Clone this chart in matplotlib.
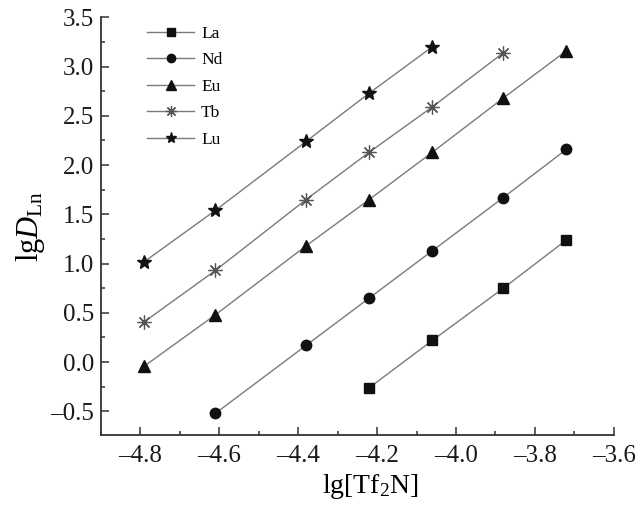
import matplotlib
matplotlib.use("Agg")
import matplotlib.pyplot as plt
from matplotlib.ticker import MultipleLocator

plt.rcParams["font.family"] = "Liberation Serif"
plt.rcParams["mathtext.fontset"] = "custom"
plt.rcParams["mathtext.rm"] = "Liberation Serif"
plt.rcParams["mathtext.it"] = "Liberation Serif:italic"

# lg[Tf2N] and lg D for each lanthanide
x_la = [-4.22, -4.06, -3.88, -3.72]
y_la = [-0.26, 0.22, 0.75, 1.24]
x_nd = [-4.61, -4.38, -4.22, -4.06, -3.88, -3.72]
y_nd = [-0.52, 0.17, 0.65, 1.13, 1.67, 2.16]
x_eu = [-4.79, -4.61, -4.38, -4.22, -4.06, -3.88, -3.72]
y_eu = [-0.04, 0.48, 1.18, 1.65, 2.13, 2.68, 3.16]
x_tb = [-4.79, -4.61, -4.38, -4.22, -4.06, -3.88]
y_tb = [0.41, 0.93, 1.65, 2.13, 2.59, 3.14]
x_lu = [-4.79, -4.61, -4.38, -4.22, -4.06]
y_lu = [1.02, 1.54, 2.24, 2.73, 3.20]

x_ticks = [-4.8, -4.6, -4.4, -4.2, -4.0, -3.8, -3.6]
y_ticks = [-0.5, 0.0, 0.5, 1.0, 1.5, 2.0, 2.5, 3.0, 3.5]

series = [
    ("La", x_la, y_la, "s", 6.5),
    ("Nd", x_nd, y_nd, "o", 7.5),
    ("Eu", x_eu, y_eu, "^", 8.5),
    ("Tb", x_tb, y_tb, (8, 2, 0), 10),
    ("Lu", x_lu, y_lu, "*", 10),
]

fig = plt.figure(figsize=(6.41, 5.07), dpi=100)
ax = fig.add_axes([0.1576, 0.142, 0.800, 0.824])

for name, xs, ys, mk, ms in series:
    if name == "Tb":
        ax.plot(xs, ys, color="#7a7a7a", lw=1.0, marker=mk, ms=ms,
                mec="#555555", mew=0.9, label=name)
    else:
        ax.plot(xs, ys, color="#7a7a7a", lw=1.0, marker=mk, ms=ms,
                mfc="#111111", mec="#111111", label=name)

ax.set_xlim(-4.9, -3.6)
ax.set_ylim(-0.74, 3.5)
ax.xaxis.set_minor_locator(MultipleLocator(0.1))
ax.yaxis.set_minor_locator(MultipleLocator(0.25))
ax.set_xticks(x_ticks)
ax.set_xticklabels([f"{v:.1f}".replace("-", "\u2013") for v in x_ticks])
ax.set_yticks(y_ticks)
ax.set_yticklabels([f"{v:.1f}".replace("-", "\u2013") for v in y_ticks])

ax.tick_params(which="both", direction="in", labelsize=18, width=1.1,
               color="#333333", labelcolor="#1a1a1a")
ax.tick_params(which="major", length=5.5)
ax.tick_params(which="minor", length=3)
ax.tick_params(axis="x", pad=7)
ax.tick_params(axis="y", pad=5)
for side in ("top", "right"):
    ax.spines[side].set_visible(False)
for side in ("left", "bottom"):
    ax.spines[side].set_linewidth(1.3)
    ax.spines[side].set_color("#333333")

ax.set_xlabel(r"lg[Tf$_2$N]", fontsize=20)
ax.xaxis.set_label_coords(0.526, -0.088)
ax.set_ylabel(r"lg$\mathit{D}_{\mathrm{Ln}}$", fontsize=22, labelpad=2)

ax.legend(loc="upper left", bbox_to_anchor=(0.09, 0.98), frameon=False,
          fontsize=12.5, handlelength=2.7, labelspacing=0.6, handletextpad=0.4,
          borderpad=0, borderaxespad=0, markerscale=0.8)

fig.savefig("out.png", dpi=100)
